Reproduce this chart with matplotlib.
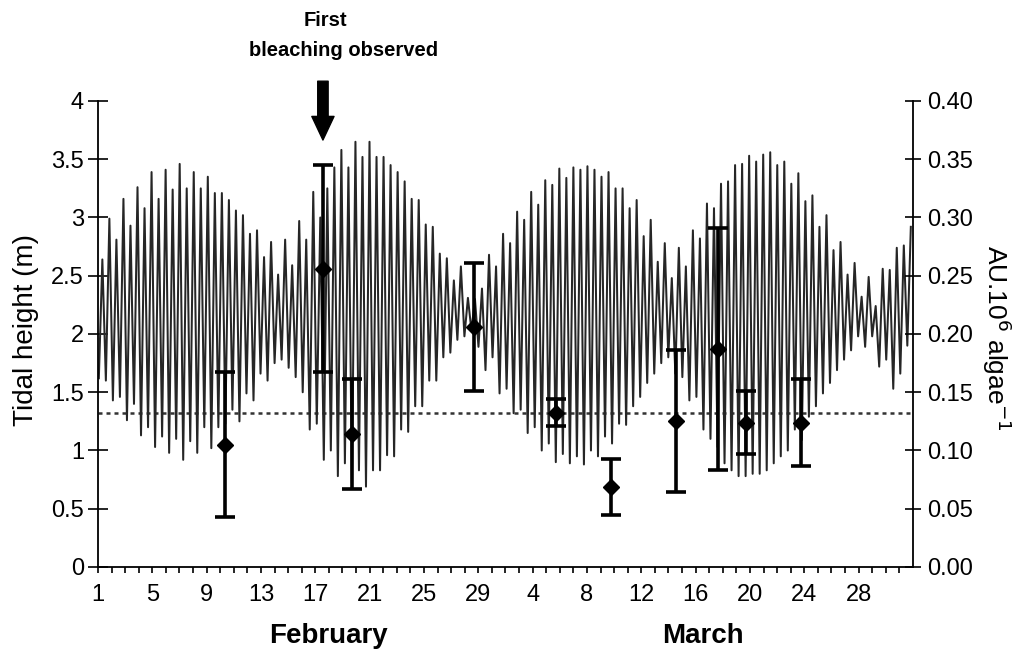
import numpy as np
import matplotlib
matplotlib.use("Agg")
import matplotlib.pyplot as plt

plt.rcParams['font.family'] = ['Liberation Sans', 'DejaVu Sans']

# ---------------- data ----------------
# successive high-tide and low-tide heights (m); a low precedes each high
high_tide_m = [
    2.64, 2.99, 2.81, 3.16, 2.93, 3.26, 3.08, 3.39, 3.16, 3.41, 3.24, 3.46, 3.25, 3.39, 3.25,
    3.35, 3.21, 3.21, 3.15, 3.06, 3.02, 2.86, 2.89, 2.66, 2.79, 2.51, 2.81, 2.59, 2.97,
    2.81, 3.22, 3.00, 3.25, 3.43, 3.58, 3.43, 3.65, 3.52, 3.65, 3.52, 3.52, 3.45, 3.39, 3.31,
    3.16, 3.15, 2.94, 2.92, 2.69, 2.65, 2.46, 2.58, 2.31, 2.30, 2.39, 2.68, 2.58, 2.86,
    2.78, 3.05, 2.98, 3.22, 3.11, 3.32, 3.28, 3.42, 3.34, 3.43, 3.41, 3.44, 3.41, 3.35, 3.39,
    3.25, 3.25, 3.08, 3.15, 2.84, 2.98, 2.62, 2.78, 2.48, 2.74, 2.58, 2.89, 2.82, 3.12,
    3.08, 3.29, 3.31, 3.45, 3.46, 3.53, 3.48, 3.54, 3.56, 3.45, 3.48, 3.29, 3.38, 3.14, 3.19,
    2.92, 3.02, 2.72, 2.79, 2.51, 2.61, 2.32, 2.49, 2.24, 2.56, 2.55, 2.74, 2.76, 2.92,
]
low_tide_m = [
    1.62, 1.60, 1.43, 1.46, 1.26, 1.40, 1.13, 1.20, 1.03, 1.12, 0.98, 1.10, 0.92, 1.08, 0.98,
    1.20, 1.02, 1.20, 1.23, 1.35, 1.25, 1.49, 1.43, 1.66, 1.60, 1.75, 1.78, 1.71, 1.63,
    1.50, 1.18, 1.23, 0.92, 1.00, 0.78, 0.89, 0.72, 0.83, 0.69, 0.83, 0.83, 0.96, 0.95, 1.18,
    1.16, 1.38, 1.38, 1.60, 1.60, 1.80, 1.84, 1.95, 1.98, 2.03, 1.89, 1.69, 1.80, 1.49,
    1.53, 1.32, 1.35, 1.15, 1.20, 1.00, 1.06, 0.90, 0.97, 0.89, 0.95, 0.88, 1.00, 0.95, 1.12,
    1.06, 1.23, 1.22, 1.38, 1.46, 1.58, 1.66, 1.75, 1.80, 1.66, 1.63, 1.43, 1.46, 1.18,
    1.10, 1.03, 0.89, 0.83, 0.78, 0.78, 0.80, 0.80, 0.83, 0.89, 0.95, 1.00, 1.18, 1.09, 1.29,
    1.38, 1.49, 1.58, 1.69, 1.78, 1.86, 1.98, 1.89, 1.98, 1.72, 1.78, 1.53, 1.66, 1.90,
]
first_high_day = 1.32        # day number (1 = 1 February)
tide_interval_days = 0.5176  # time between successive high tides

sample_day = [10.35, 17.58, 19.71, 28.69, 34.75, 38.75, 43.53, 46.64, 48.73, 52.78]
sample_mean = [0.105, 0.256, 0.114, 0.206, 0.1325, 0.069, 0.125, 0.187, 0.124, 0.124]
sample_sd = [0.062, 0.089, 0.047, 0.055, 0.0115, 0.024, 0.061, 0.104, 0.027, 0.037]

threshold_m = 1.325
bleaching_day = 17.56

xtick_days = [1, 5, 9, 13, 17, 21, 25, 29, 33, 37, 41, 45, 49, 53, 57]
xtick_labels = ['1', '5', '9', '13', '17', '21', '25', '29',
                '4', '8', '12', '16', '20', '24', '28']
left_ticks = [0, 0.5, 1, 1.5, 2, 2.5, 3, 3.5, 4]
left_labels = ['0', '0.5', '1', '1.5', '2', '2.5', '3', '3.5', '4']
right_ticks = [0, 0.05, 0.10, 0.15, 0.20, 0.25, 0.30, 0.35, 0.40]
right_labels = ['0.00', '0.05', '0.10', '0.15', '0.20', '0.25', '0.30', '0.35', '0.40']

# ---------------- build tide line ----------------
n = len(high_tide_m)
t_high = first_high_day + np.arange(n) * tide_interval_days
t_low = t_high - tide_interval_days / 2
t = np.empty(2 * n)
h = np.empty(2 * n)
t[0::2] = t_low
t[1::2] = t_high
h[0::2] = low_tide_m
h[1::2] = high_tide_m

# ---------------- figure ----------------
fig = plt.figure(figsize=(10.14, 6.53), dpi=100)
ax = fig.add_axes([0.09665, 0.1317, 0.8037, 0.71363])

ax.plot(t, h, color='#262626', lw=1.45, zorder=2, solid_joinstyle='round')
ax.axhline(threshold_m, color='#333333', lw=1.8, ls=(0, (1.6, 1.6)), zorder=1)

ax.set_xlim(1, 61)
ax.set_ylim(0, 4)
ax.set_xticks(xtick_days)
ax.set_xticklabels(xtick_labels)
ax.set_xticks(np.arange(2, 61), minor=True)
ax.set_yticks(left_ticks)
ax.set_yticklabels(left_labels)
ax.tick_params(axis='x', which='both', direction='out', length=4, width=1.2,
               labelsize=17, pad=8)
ax.tick_params(axis='y', direction='inout', length=14, width=1.2, labelsize=17, pad=3)
for s in ['top', 'right']:
    ax.spines[s].set_visible(False)
for s in ['left', 'bottom']:
    ax.spines[s].set_linewidth(1.3)

ax2 = ax.twinx()
ax2.set_ylim(0, 0.4)
ax2.set_yticks(right_ticks)
ax2.set_yticklabels(right_labels)
ax2.tick_params(axis='y', direction='inout', length=12, width=1.2, labelsize=17, pad=4)
for s in ['top', 'left', 'bottom']:
    ax2.spines[s].set_visible(False)
ax2.spines['right'].set_linewidth(1.3)

ax2.errorbar(sample_day, sample_mean, yerr=sample_sd, fmt='D', color='black',
             ms=8.5, elinewidth=2.6, capsize=7.5, capthick=2.6, zorder=5)

# arrow marking first bleaching
ax.annotate('', xy=(bleaching_day, 3.665), xytext=(bleaching_day, 4.17),
            arrowprops=dict(facecolor='black', edgecolor='black', width=7.5,
                            headwidth=16, headlength=17, shrink=0),
            annotation_clip=False)

fig.text(325 / 1014, 1 - 21 / 653, 'First', ha='center', va='center',
         fontsize=14.5, fontweight='bold')
fig.text(344 / 1014, 1 - 51 / 653, 'bleaching observed', ha='center', va='center',
         fontsize=14.5, fontweight='bold')

fig.text(26 / 1014, 1 - 330 / 653, 'Tidal height (m)', rotation=90,
         ha='center', va='center', fontsize=20)
fig.text(997 / 1014, 1 - 338 / 653, r'AU.10$^{6}$ algae$^{-1}$', rotation=270,
         ha='center', va='center', fontsize=19)

fig.text(328 / 1014, 1 - 636 / 653, 'February', ha='center', va='center',
         fontsize=20, fontweight='bold')
fig.text(703 / 1014, 1 - 636 / 653, 'March', ha='center', va='center',
         fontsize=20, fontweight='bold')

fig.savefig('out.png', dpi=100)
